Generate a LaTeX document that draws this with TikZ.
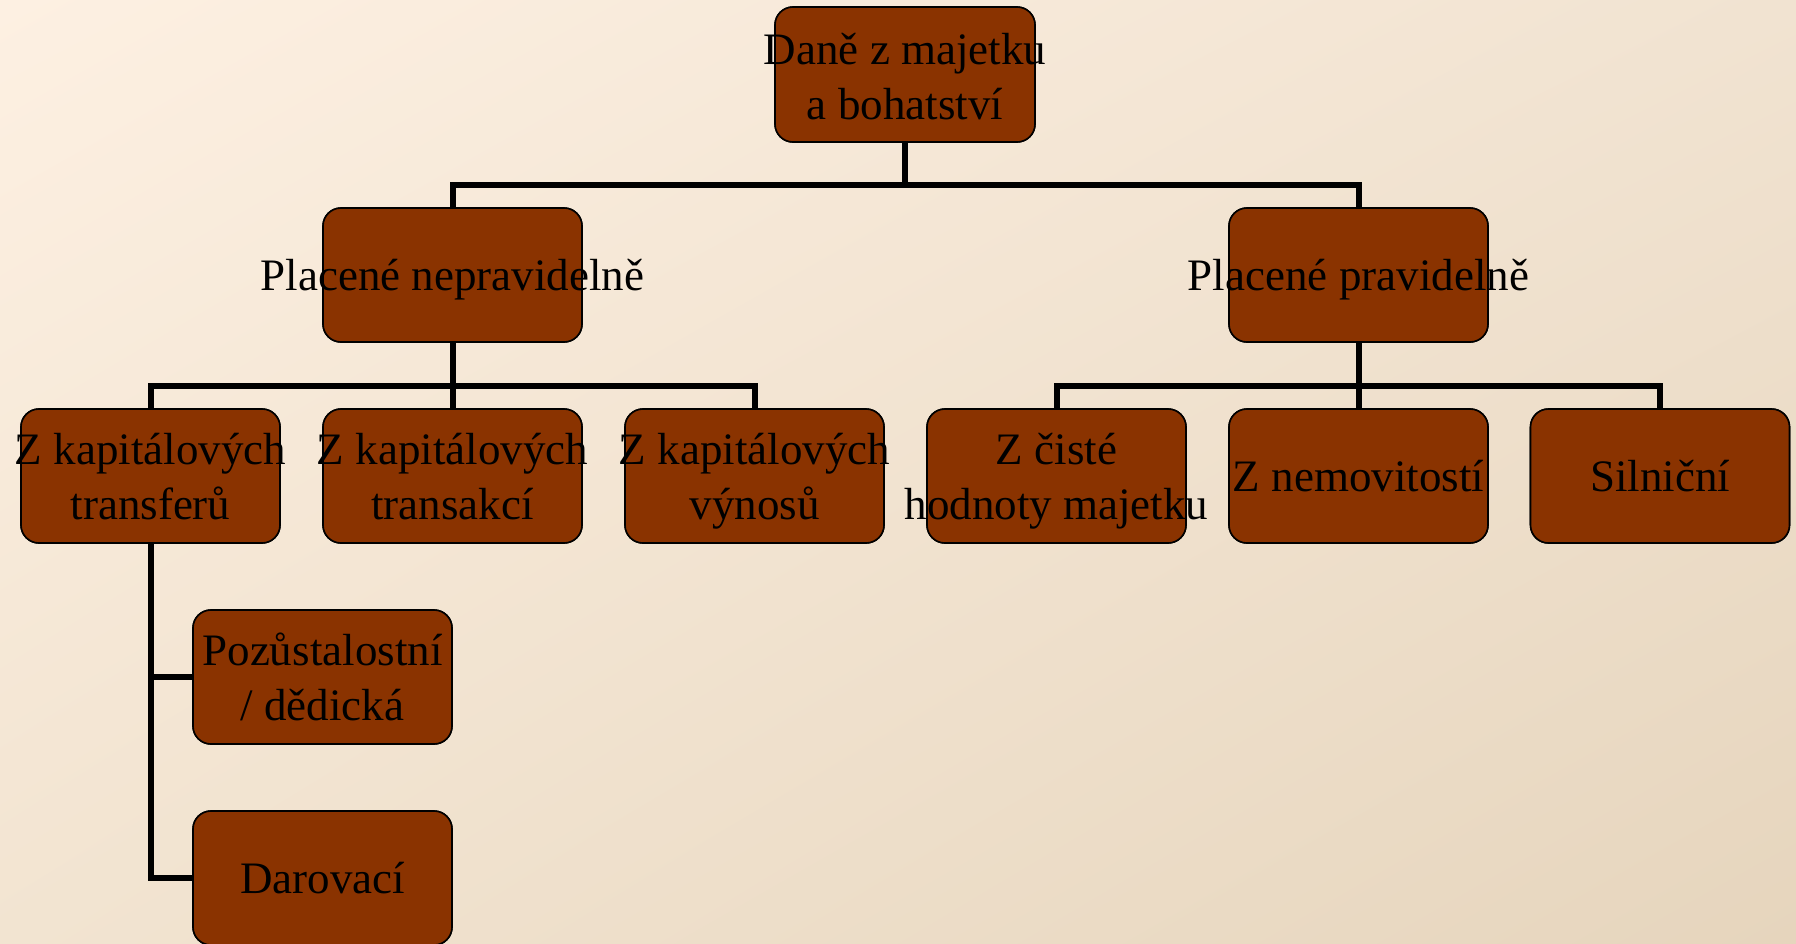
\documentclass[tikz,border=0pt]{standalone}
\usepackage{fontspec}
\setmainfont{Liberation Serif}
\usetikzlibrary{shadings}
\definecolor{bgUL}{HTML}{FDF0E2}
\definecolor{bgUR}{HTML}{F1E3D1}
\definecolor{bgLL}{HTML}{F2E4D1}
\definecolor{bgLR}{HTML}{E6D5BD}
\definecolor{boxfill}{HTML}{8A3300}
\tikzset{
  box/.style={draw=black, line width=1.6pt, fill=boxfill, rounded corners=18pt,
    minimum width=259pt, minimum height=134pt, inner sep=0pt},
  lbl/.style={text=black, align=center, inner sep=0pt, text depth=0pt,
    font=\fontsize{45}{55}\selectfont},
  conn/.style={draw=black, line width=6pt}
}
\begin{document}
\begin{tikzpicture}[x=1pt,y=-1pt]
\useasboundingbox (0,0) rectangle (1796,943);
\shade[upper left=bgUL, upper right=bgUR, lower left=bgLL, lower right=bgLR]
  (0,0) rectangle (1796,943);

% box positions (used by the connectors)
\path
  (905,74.5) node[box,minimum width=260pt,minimum height=135pt] (top) {}
  (452.5,275) node[box] (p1) {}
  (1358.5,275) node[box] (p2) {}
  (150.5,476) node[box] (a1) {}
  (452.5,476) node[box] (a2) {}
  (754.5,476) node[box] (a3) {}
  (1056.5,476) node[box] (b1) {}
  (1358.5,476) node[box] (b2) {}
  (1660,476) node[box] (b3) {}
  (322.5,677) node[box] (d1) {}
  (322.5,878) node[box] (d2) {};

% connectors
\draw[conn] (top.south) -- ++(0,42) coordinate (j1) -| (p1.north);
\draw[conn] (j1) -| (p2.north);
\draw[conn] (p1.south) -- ++(0,43) coordinate (j2) -| (a1.north);
\draw[conn] (j2) -| (a3.north);
\draw[conn] (j2) -- (a2.north);
\draw[conn] (p2.south) -- ++(0,43) coordinate (j3) -| (b1.north);
\draw[conn] (j3) -| (b3.north);
\draw[conn] (j3) -- (b2.north);
\draw[conn] (a1.south) |- (d2.west);
\draw[conn] (a1.south |- d1.west) -- (d1.west);

% boxes again, above the connector ends
\path
  (905,74.5) node[box,minimum width=260pt,minimum height=135pt] (topB) {}
  (452.5,275) node[box] (p1B) {}
  (1358.5,275) node[box] (p2B) {}
  (150.5,476) node[box] (a1B) {}
  (452.5,476) node[box] (a2B) {}
  (754.5,476) node[box] (a3B) {}
  (1056.5,476) node[box] (b1B) {}
  (1358.5,476) node[box] (b2B) {}
  (1660,476) node[box] (b3B) {}
  (322.5,677) node[box] (d1B) {}
  (322.5,878) node[box] (d2B) {};

% labels
\node[lbl] (ttop) at ([yshift=-2pt]top) {Daně z majetku\\a bohatství};
\node[lbl] (tp1) at (p1) {Placené nepravidelně};
\node[lbl] (tp2) at (p2) {Placené pravidelně};
\node[lbl] (ta1) at (a1) {Z kapitálových\\transferů};
\node[lbl] (ta2) at (a2) {Z kapitálových\\transakcí};
\node[lbl] (ta3) at (a3) {Z kapitálových\\výnosů};
\node[lbl] (tb1) at (b1) {Z čisté\\hodnoty majetku};
\node[lbl] (tb2) at (b2) {Z nemovitostí};
\node[lbl] (tb3) at (b3) {Silniční};
\node[lbl] (td1) at (d1) {Pozůstalostní\\/ dědická};
\node[lbl] (td2) at (d2) {Darovací};
\end{tikzpicture}
\end{document}
